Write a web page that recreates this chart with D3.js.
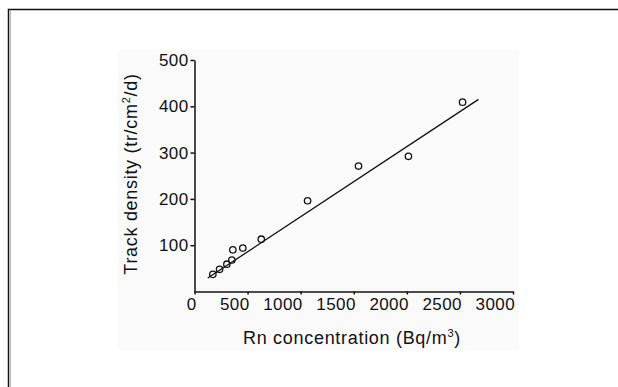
<!DOCTYPE html>
<html>
<head>
<meta charset="utf-8">
<script src="https://cdn.jsdelivr.net/npm/d3@7"></script>
<style>
    body { margin: 0; background: #fff; }
    svg { display: block; font-family: Arial, "Liberation Sans", sans-serif; }
</style>
</head>
<body>
<div id="chart"></div>
<script>
// measured points (Rn concentration vs track density)
let rnValues = [173, 236, 305, 352, 361, 455, 629, 1065, 1545, 2015, 2525];
let trackValues = [37, 48, 59, 68, 90, 94, 113, 196, 271, 292, 409];

// fitted line end points
let fitX = [125, 2675];
let fitY = [29, 415];

let xTicks = [0, 500, 1000, 1500, 2000, 2500, 3000];
let yTicks = [100, 200, 300, 400, 500];

let showScatter = () => {
    const w = 618, h = 387;

    const svg = d3.select("#chart")
        .append("svg")
        .attr("width", w)
        .attr("height", h);

    // frame lines (top + left only)
    svg.append("path")
        .attr("d", "M618,9.5 H8.5 V387")
        .attr("fill", "none")
        .attr("stroke", "#111")
        .attr("stroke-width", 1.5);
    svg.append("line")
        .attr("x1", 10.5).attr("x2", 10.5)
        .attr("y1", 11).attr("y2", 387)
        .attr("stroke", "#bbb");

    // light panel behind the plot
    svg.append("rect")
        .attr("x", 118).attr("y", 50)
        .attr("width", 401).attr("height", 300)
        .attr("fill", "#fafafa");

    const x = d3.scaleLinear().domain([0, 3000]).range([194.5, 513]);
    const y = d3.scaleLinear().domain([0, 500]).range([291.5, 60]);

    let xAxis = svg.append("g")
        .attr("transform", "translate(0," + y(0) + ")")
        .call(d3.axisBottom(x)
            .tickValues(xTicks)
            .tickFormat(d3.format("d"))
            .tickSize(3)
            .tickSizeOuter(0)
            .tickPadding(3));

    let yAxis = svg.append("g")
        .attr("transform", "translate(" + x(0) + ",0)")
        .call(d3.axisLeft(y)
            .tickValues(yTicks)
            .tickFormat(d3.format("d"))
            .tickSize(4)
            .tickSizeOuter(0)
            .tickPadding(2));

    svg.selectAll(".domain, .tick line")
        .attr("stroke", "#111")
        .attr("stroke-width", 1.5);
    svg.selectAll(".tick text")
        .attr("fill", "#111")
        .attr("font-family", "Arial, 'Liberation Sans', sans-serif")
        .attr("font-size", 17)
        .style("letter-spacing", "0.4px");

    // x labels sit just left of their tick
    xAxis.selectAll("text")
        .attr("text-anchor", "end")
        .attr("x", 1.5);

    // regression line
    svg.append("line")
        .attr("x1", x(fitX[0])).attr("y1", y(fitY[0]))
        .attr("x2", x(fitX[1])).attr("y2", y(fitY[1]))
        .attr("stroke", "#111")
        .attr("stroke-width", 1.3);

    // open circle markers
    svg.selectAll("circle.pt")
        .data(rnValues)
        .enter()
        .append("circle")
        .attr("class", "pt")
        .attr("cx", (d) => x(d))
        .attr("cy", (d, i) => y(trackValues[i]))
        .attr("r", 3.2)
        .attr("fill", "none")
        .attr("stroke", "#111")
        .attr("stroke-width", 1.3);

    // axis titles
    let xt = svg.append("text")
        .attr("x", 352)
        .attr("y", 344)
        .attr("text-anchor", "middle")
        .style("font-size", "18px")
        .style("letter-spacing", "0.7px")
        .attr("fill", "#111");
    xt.append("tspan").text("Rn concentration (Bq/m");
    xt.append("tspan").text("3").attr("dy", -7).style("font-size", "11px");
    xt.append("tspan").text(")").attr("dy", 7);

    let yt = svg.append("text")
        .attr("transform", "translate(137,174) rotate(-90)")
        .attr("text-anchor", "middle")
        .style("font-size", "18px")
        .style("letter-spacing", "0.7px")
        .attr("fill", "#111");
    yt.append("tspan").text("Track density (tr/cm");
    yt.append("tspan").text("2").attr("dy", -7).style("font-size", "11px");
    yt.append("tspan").text("/d)").attr("dy", 7);
}

showScatter();
</script>
</body>
</html>
